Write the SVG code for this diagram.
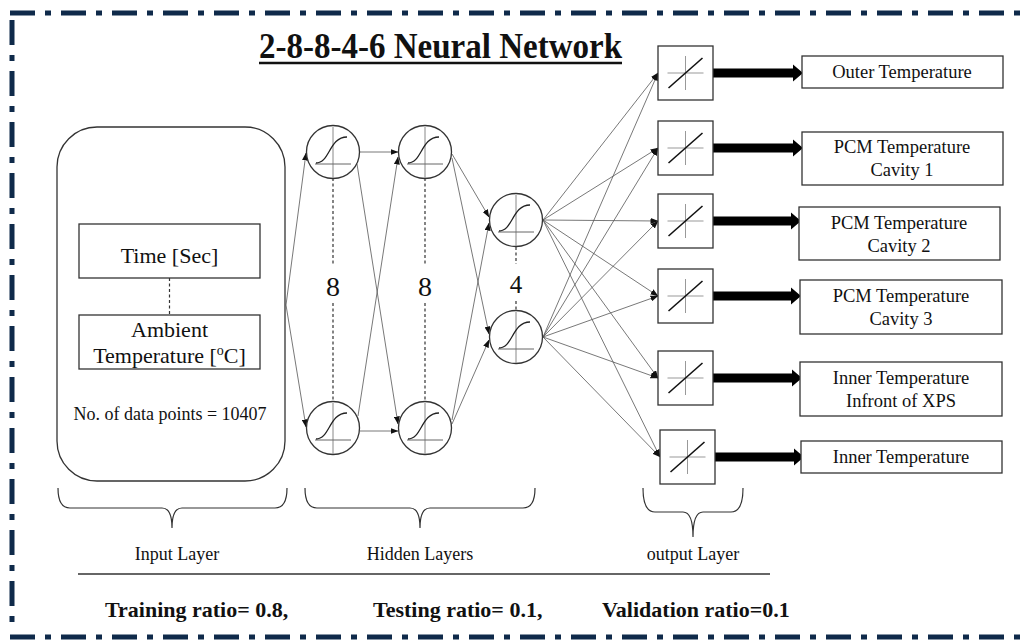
<svg xmlns="http://www.w3.org/2000/svg" width="1021" height="644" viewBox="0 0 1021 644">
<style>
.t{font-family:"Liberation Serif","Times New Roman",serif;fill:#111}
.b{font-weight:bold}
.conn{stroke:#555;stroke-width:0.8;fill:none}
.box{fill:#fff;stroke:#333;stroke-width:1.3}
.dash{stroke:#333;stroke-width:1.2;stroke-dasharray:3 2.5}
.brace{fill:none;stroke:#333;stroke-width:1.2}
.border{fill:none;stroke:#0f2a4a;stroke-width:5;stroke-dasharray:25 10 6 10}
</style>
<defs>
<marker id="ah" markerWidth="8" markerHeight="6" refX="7.5" refY="3" orient="auto" markerUnits="userSpaceOnUse"><path d="M0,0 L8,3 L0,6 z" fill="#111"/></marker>
<g id="neuron">
<circle r="26.5" fill="#fff" stroke="#333" stroke-width="1.3"/>
<line x1="0" y1="-25" x2="0" y2="26" stroke="#888" stroke-width="1"/>
<line x1="-18" y1="12" x2="18" y2="12" stroke="#666" stroke-width="1"/>
<path d="M-17,11 C-3,11 -4,-15 14,-15" fill="none" stroke="#222" stroke-width="1.3"/>
</g>
<g id="lin">
<rect x="-27.5" y="-27" width="55" height="54" fill="#fff" stroke="#333" stroke-width="1.3"/>
<line x1="-18" y1="0" x2="18" y2="0" stroke="#999" stroke-width="1"/>
<line x1="0" y1="-17" x2="0" y2="17" stroke="#999" stroke-width="1"/>
<line x1="-17" y1="15" x2="17" y2="-15" stroke="#111" stroke-width="1.6"/>
</g>
<path id="thick" d="M0,-4.5 L80,-4.5 L80,-8.5 L90,0 L80,8.5 L80,4.5 L0,4.5 z" fill="#000"/>
</defs>
<rect width="1021" height="644" fill="#fff"/>

<g id="border">
<line class="border" x1="10" y1="13" x2="1021" y2="13"/>
<line class="border" x1="12" y1="20" x2="12" y2="630"/>
<line class="border" x1="10" y1="637" x2="1021" y2="637" stroke-width="6"/>
</g>

<g id="title">
<text class="t b" x="259" y="58" font-size="35" textLength="363" lengthAdjust="spacingAndGlyphs">2-8-8-4-6 Neural Network</text>
<line x1="259" y1="63" x2="622" y2="63" stroke="#111" stroke-width="2.5"/>
</g>

<g id="connectors">
<line class="conn" x1="286" y1="305" x2="306" y2="153" marker-end="url(#ah)"/>
<line class="conn" x1="286" y1="305" x2="306" y2="427" marker-end="url(#ah)"/>
<line class="conn" x1="360" y1="152" x2="398" y2="152" marker-end="url(#ah)"/>
<line class="conn" x1="360" y1="431" x2="398" y2="431" marker-end="url(#ah)"/>
<line class="conn" x1="357" y1="164" x2="398" y2="424" marker-end="url(#ah)"/>
<line class="conn" x1="358" y1="416" x2="398" y2="157" marker-end="url(#ah)"/>
<line class="conn" x1="452" y1="154" x2="489" y2="217" marker-end="url(#ah)"/>
<line class="conn" x1="452" y1="158" x2="489" y2="334" marker-end="url(#ah)"/>
<line class="conn" x1="452" y1="420" x2="489" y2="223" marker-end="url(#ah)"/>
<line class="conn" x1="452" y1="424" x2="489" y2="340" marker-end="url(#ah)"/>
<line class="conn" x1="543" y1="220" x2="658" y2="73" marker-end="url(#ah)"/>
<line class="conn" x1="543" y1="220" x2="658" y2="148" marker-end="url(#ah)"/>
<line class="conn" x1="543" y1="220" x2="658" y2="221" marker-end="url(#ah)"/>
<line class="conn" x1="543" y1="220" x2="658" y2="296" marker-end="url(#ah)"/>
<line class="conn" x1="543" y1="220" x2="658" y2="378" marker-end="url(#ah)"/>
<line class="conn" x1="543" y1="220" x2="660" y2="457" marker-end="url(#ah)"/>
<line class="conn" x1="543" y1="337" x2="658" y2="73" marker-end="url(#ah)"/>
<line class="conn" x1="543" y1="337" x2="658" y2="148" marker-end="url(#ah)"/>
<line class="conn" x1="543" y1="337" x2="658" y2="221" marker-end="url(#ah)"/>
<line class="conn" x1="543" y1="337" x2="658" y2="296" marker-end="url(#ah)"/>
<line class="conn" x1="543" y1="337" x2="658" y2="378" marker-end="url(#ah)"/>
<line class="conn" x1="543" y1="337" x2="660" y2="457" marker-end="url(#ah)"/>
<use href="#thick" x="713" y="73"/>
<use href="#thick" x="713" y="148"/>
<use href="#thick" x="711" y="221"/>
<use href="#thick" x="711" y="296"/>
<use href="#thick" x="712" y="378"/>
<use href="#thick" x="714" y="457"/>
</g>

<g id="input-layer">
<rect class="box" x="57" y="127" width="228" height="354" rx="40" ry="40"/>
<rect class="box" x="79" y="224" width="181" height="54"/>
<text class="t" x="169.5" y="263" font-size="22" text-anchor="middle">Time [Sec]</text>
<line class="dash" x1="169.5" y1="278" x2="169.5" y2="315"/>
<rect class="box" x="79" y="315" width="181" height="54"/>
<text class="t" x="169.5" y="337" font-size="22" text-anchor="middle">Ambient</text>
<text class="t" x="169.5" y="363" font-size="22" text-anchor="middle">Temperature [<tspan font-size="14" dy="-8">o</tspan><tspan dy="8">C]</tspan></text>
<text class="t" x="170" y="420" font-size="18" text-anchor="middle">No. of data points = 10407</text>
</g>

<g id="hidden-1">
<use href="#neuron" x="333" y="152"/>
<use href="#neuron" x="333" y="428"/>
<line class="dash" x1="333" y1="178" x2="333" y2="264"/>
<text class="t" x="333" y="296" font-size="28" text-anchor="middle">8</text>
<line class="dash" x1="333" y1="303" x2="333" y2="402"/>
</g>

<g id="hidden-2">
<use href="#neuron" x="425" y="152"/>
<use href="#neuron" x="425" y="428"/>
<line class="dash" x1="425" y1="178" x2="425" y2="264"/>
<text class="t" x="425" y="296" font-size="28" text-anchor="middle">8</text>
<line class="dash" x1="425" y1="303" x2="425" y2="402"/>
</g>

<g id="hidden-3">
<use href="#neuron" x="516" y="220"/>
<use href="#neuron" x="516" y="337"/>
<line class="dash" x1="516" y1="247" x2="516" y2="264"/>
<text class="t" x="516" y="293" font-size="25" text-anchor="middle">4</text>
<line class="dash" x1="516" y1="301" x2="516" y2="311"/>
</g>

<g id="output-layer">
<use href="#lin" x="685.5" y="73"/>
<use href="#lin" x="685.5" y="148"/>
<use href="#lin" x="685.5" y="221"/>
<use href="#lin" x="685.5" y="296"/>
<use href="#lin" x="685.5" y="378"/>
<use href="#lin" x="687.5" y="457"/>
</g>

<g id="out-1">
<rect class="box" x="802" y="56" width="201" height="32"/>
<text class="t" x="902" y="78" font-size="18.5" text-anchor="middle">Outer Temperature</text>
</g>
<g id="out-2">
<rect class="box" x="802" y="132" width="201" height="53"/>
<text class="t" x="902" y="153" font-size="18.5" text-anchor="middle">PCM Temperature</text>
<text class="t" x="902" y="176" font-size="18.5" text-anchor="middle">Cavity 1</text>
</g>
<g id="out-3">
<rect class="box" x="799" y="207" width="201" height="53"/>
<text class="t" x="899" y="229" font-size="18.5" text-anchor="middle">PCM Temperature</text>
<text class="t" x="899" y="252" font-size="18.5" text-anchor="middle">Cavity 2</text>
</g>
<g id="out-4">
<rect class="box" x="800" y="280" width="202" height="54"/>
<text class="t" x="901" y="302" font-size="18.5" text-anchor="middle">PCM Temperature</text>
<text class="t" x="901" y="325" font-size="18.5" text-anchor="middle">Cavity 3</text>
</g>
<g id="out-5">
<rect class="box" x="800" y="362" width="202" height="54"/>
<text class="t" x="901" y="384" font-size="18.5" text-anchor="middle">Inner Temperature</text>
<text class="t" x="901" y="407" font-size="18.5" text-anchor="middle">Infront of XPS</text>
</g>
<g id="out-6">
<rect class="box" x="801" y="441" width="201" height="32"/>
<text class="t" x="901" y="463" font-size="18.5" text-anchor="middle">Inner Temperature</text>
</g>

<g id="braces">
<path class="brace" d="M58,488 Q58,508 70,508 L162,508 Q172,508 172,528 Q172,508 182,508 L275,508 Q287,508 287,488"/>
<path class="brace" d="M305,488 Q305,508 317,508 L410,508 Q420,508 420,528 Q420,508 430,508 L523,508 Q535,508 535,488"/>
<path class="brace" d="M643,488 Q643,512 655,512 L683,512 Q693,512 693,537 Q693,512 703,512 L731,512 Q743,512 743,488"/>
<text class="t" x="177" y="560" font-size="18" text-anchor="middle">Input Layer</text>
<text class="t" x="420" y="560" font-size="18" text-anchor="middle">Hidden Layers</text>
<text class="t" x="693" y="560" font-size="18" text-anchor="middle">output Layer</text>
<line x1="78" y1="574" x2="770" y2="574" stroke="#333" stroke-width="1.3"/>
</g>

<g id="ratios">
<text class="t b" x="105" y="617" font-size="22">Training ratio= 0.8,</text>
<text class="t b" x="373" y="617" font-size="22">Testing ratio= 0.1,</text>
<text class="t b" x="602" y="617" font-size="22">Validation ratio=0.1</text>
</g>
</svg>
